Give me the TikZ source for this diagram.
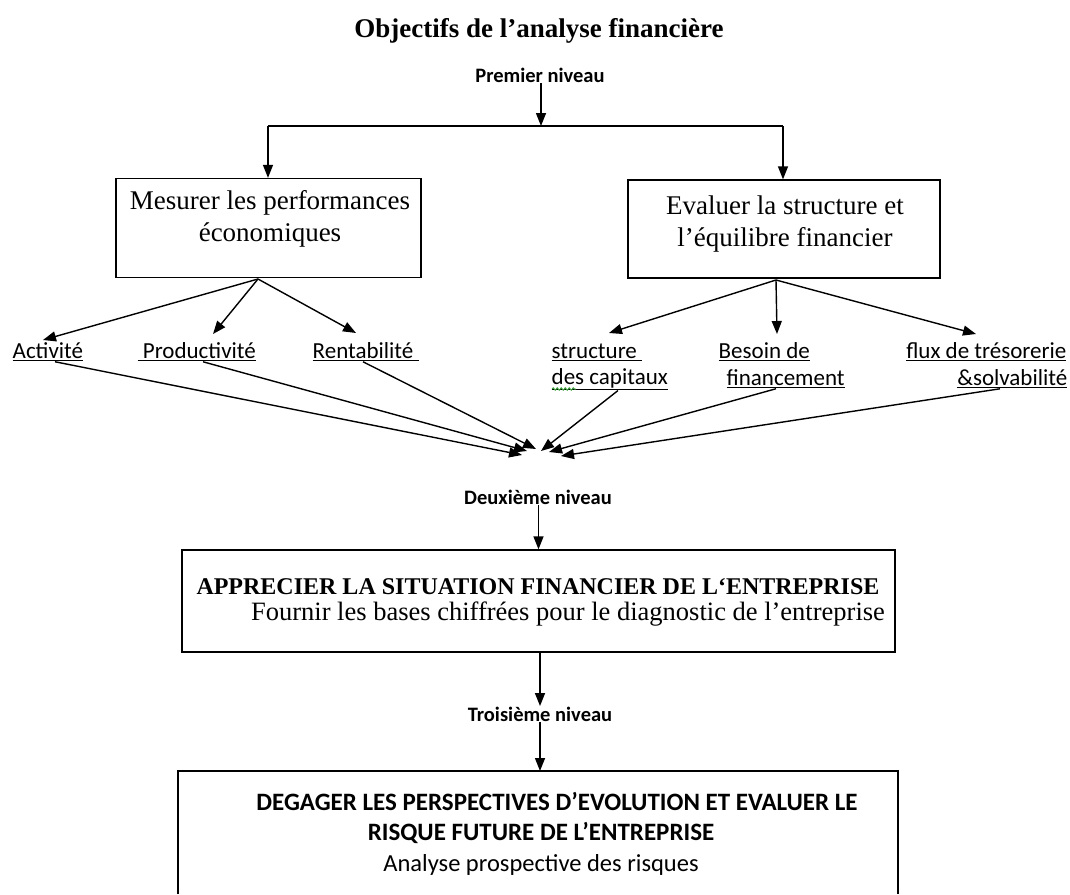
\documentclass[tikz,border=0pt]{standalone}
\usepackage{fontspec}
\setmainfont{Liberation Serif}
\newfontfamily\calfont{Carlito}
\usetikzlibrary{arrows.meta,calc,decorations.pathmorphing}
\definecolor{spellgreen}{RGB}{60,160,60}
\begin{document}
\begin{tikzpicture}[x=1pt,y=-1pt,
  line width=1.4pt,
  arr/.style={-{Triangle[length=13pt,width=10pt]}},
  box/.style={draw,line width=1.3pt,inner sep=0pt},
  lab/.style={inner sep=0pt,font=\calfont\fontsize{23}{26}\selectfont},
  lvl/.style={inner sep=0pt,font=\calfont\bfseries\fontsize{20.5}{22}\selectfont},
  btxt/.style={inner sep=0pt,font=\fontsize{27}{32}\selectfont,align=center}]
\useasboundingbox (0,0) rectangle (1070,894);
% title
\node[inner sep=0pt,font=\bfseries\fontsize{27}{30}\selectfont] (title) at (539,31) {Objectifs de l’analyse financière};
\node[lvl] (n1) at (540,75) {Premier niveau};
% split
\coordinate (j) at (541,126);
\coordinate (jl) at (268,126);
\coordinate (jr) at (783,126);
\draw[arr] (n1.south -| j) -- (j);
\draw (jl) -- (jr);
% boxes level 1
\node[box,minimum width=305pt,minimum height=99pt] (mes) at (268.5,228) {};
\node[btxt] (mest) at (270,218.5) {Mesurer les performances\\économiques};
\node[box,minimum width=312pt,minimum height=98pt] (eva) at (784,229) {};
\node[btxt] (evat) at (785,224.5) {Evaluer la structure et\\l’équilibre financier};
\draw[arr] (jl) -- (jl |- mes.north);
\draw[arr] (jr) -- (jr |- eva.north);
% labels
\node[lab,anchor=west] (act) at (12,352) {\underline{Activité}};
\node[lab,anchor=west] (pro) at (137,352) {\underline{ Productivité}};
\node[lab,anchor=west] (ren) at (312,352) {\underline{Rentabilité }};
\node[lab,anchor=west] (str) at (551,352) {\underline{structure }};
\node[lab,anchor=west] (cap) at (551,379) {\underline{des capitaux}};
\node[lab,anchor=west] (bes) at (718,352) {\underline{Besoin de}};
\node[lab,anchor=west] (fin) at (726,379) {\underline{financement}};
\node[lab,anchor=east] (flu) at (1067,352) {\underline{flux de trésorerie}};
\node[lab,anchor=east] (sol) at (1068,379) {\underline{\&solvabilité}};
% spell-check mark under "des"
\coordinate (w1) at (552,389);
\coordinate (w2) at (576,389);
\draw[spellgreen,line width=1pt,decorate,decoration={snake,amplitude=1.2pt,segment length=4pt}] (w1) -- (w2);
% fan out
\coordinate (ms) at (258,279);
\coordinate (es) at (776,280);
\coordinate (tA) at (43,340);
\coordinate (tP) at (213,334);
\coordinate (tR) at (356,333);
\coordinate (tS) at (609,333);
\coordinate (tB) at (777,334);
\coordinate (tF) at (976,334);
\draw[arr] (ms) -- (tA);
\draw[arr] (ms) -- (tP);
\draw[arr] (ms) -- (tR);
\draw[arr] (es) -- (tS);
\draw[arr] (es) -- (tB);
\draw[arr] (es) -- (tF);
% converge
\coordinate (c1) at (522,455);
\coordinate (c2) at (527,451);
\coordinate (c3) at (536,449);
\coordinate (c4) at (541,451);
\coordinate (c5) at (549,452);
\coordinate (c6) at (561,456);
\draw[arr] (act.south -| 55,0) -- (c1);
\draw[arr] (pro.south -| 203,0) -- (c2);
\draw[arr] (ren.south -| 363,0) -- (c3);
\draw[arr] (cap.south -| 618,0) -- (c4);
\draw[arr] (fin.south -| 776,0) -- (c5);
\draw[arr] (sol.south -| 1000,0) -- (c6);
% level 2
\node[lvl] (n2) at (538,497) {Deuxième niveau};
\node[box,minimum width=713pt,minimum height=102pt] (app) at (538.5,601) {};
\node[inner sep=0pt,font=\bfseries\fontsize{24}{28}\selectfont] (appt) at (538,587) {APPRECIER LA SITUATION FINANCIER DE L‘ENTREPRISE};
\node[inner sep=0pt,font=\fontsize{26.5}{28}\selectfont] (appd) at (568,614) {Fournir les bases chiffrées pour le diagnostic de l’entreprise};
\draw[arr] (n2.south -| app.north) -- (app.north);
% level 3
\node[lvl] (n3) at (540,714) {Troisième niveau};
\draw[arr] (app.south -| n3.north) -- (n3.north);
\coordinate (bl) at (178,894);
\coordinate (tl) at (178,771);
\coordinate (tr) at (898,771);
\coordinate (br) at (898,894);
\coordinate (bt) at (540,771);
\draw[arr] (n3.south) -- (bt);
\draw[line width=1.3pt] (bl) -- (tl) -- (tr) -- (br);
\node[inner sep=0pt,font=\calfont\bfseries\fontsize{25}{28}\selectfont] (d1) at (557,801) {DEGAGER LES PERSPECTIVES D’EVOLUTION ET EVALUER LE};
\node[inner sep=0pt,font=\calfont\bfseries\fontsize{25}{28}\selectfont] (d2) at (541,833) {RISQUE FUTURE DE L’ENTREPRISE};
\node[inner sep=0pt,font=\calfont\fontsize{24.5}{28}\selectfont] (d3) at (541,865) {Analyse prospective des risques};
\end{tikzpicture}
\end{document}
